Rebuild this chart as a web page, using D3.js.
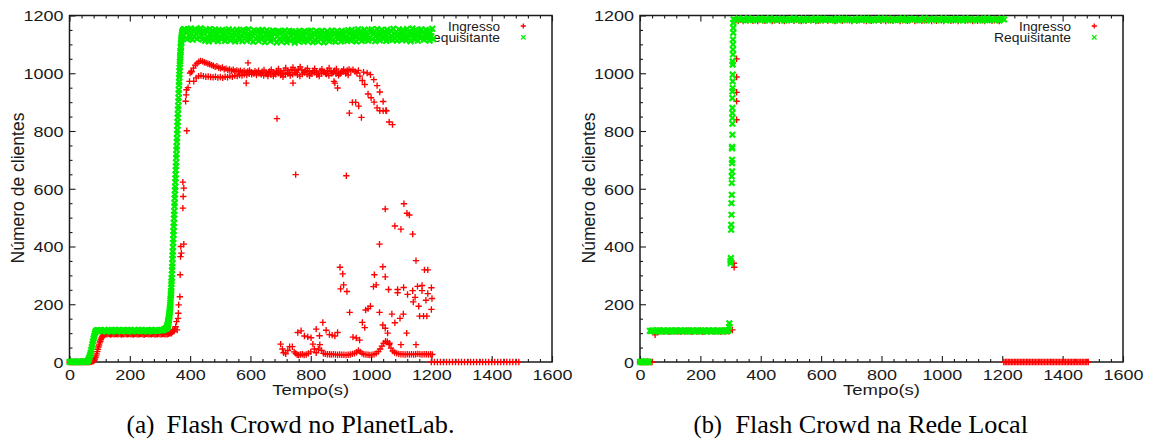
<!DOCTYPE html>
<html><head><meta charset="utf-8">
<script src="https://cdn.jsdelivr.net/npm/d3@7"></script>
<style>body{margin:0;background:#fff}svg{display:block}</style>
</head><body>
<svg id="c" width="1151" height="441"></svg>
<script>
// ---------------- DATA ----------------
const xTickValues = [0,200,400,600,800,1000,1200,1400,1600];
const yTickValues = [0,200,400,600,800,1000,1200];
const seriesNames = ["Ingresso","Requisitante"];
const captions = ["(a)","Flash Crowd no PlanetLab.","(b)","Flash Crowd na Rede Local"];

// (a) PlanetLab — Requisitante (regularly sampled segments: start, step, values)
const reqA_low = {start:0, step:4, values:[0,1,0,2,0,1,0,0,2,1,0,1,0,2,1]};
const reqA_ramp1 = {start:58, step:2, values:[1,3,6,10,16,24,32,42,52,62,72,82,90,98,104,107,109,108,110,109,108]};
const reqA_plateau = {start:100, step:4, values:[108,110,107,109,111,108,106,110,109,107,111,108,110,109,107,108,111,110,106,109,108,110,107,111,109,108,110,106,109,111,108,107,110,109,108,111,107,109,110,108,106,110,109,111,108,107,110,109,108,110,109,111,110,112,114,117]};
const reqA_surge = {start:322, step:0.5, values:[116,117,119,120,121,123,125,127,130,131,134,137,140,144,146,150,155,158,162,168,172,178,185,190,197,205,212,220,230,238,247,258,270,280,291,304,318,330,342,357,370,383,398,413,425,441,453,469,481,497,510,523,539,551,567,580,595,607,623,636,649,665,678,691,707,719,735,747,763,775,791,803,819,831,847,859,875,887,903,915,931,943,959,970,985,995,1009,1019,1032,1041,1053,1061,1072,1079,1089,1094,1103,1107,1115,1118,1125,1127,1133,1134,1139,1140,1143,1144,1147,1146,1149,1148,1150,1149,1151,1150,1152,1149,1150,1148,1151,1147,1150,1146,1149]};
const reqA_band = {start:387, step:3, values:[
1146,1118,1152,1131,1122,1155,1139,1116,1149,1127,1153,1135,1119,1150,1142,1124,1156,1130,1117,1147,
1138,1113,1151,1126,1144,1110,1153,1133,1120,1148,1115,1140,1152,1123,1136,1111,1149,1129,1145,1118,
1150,1125,1137,1112,1147,1132,1119,1152,1141,1114,1128,1149,1121,1143,1110,1135,1151,1124,1139,1116,
1146,1130,1111,1150,1137,1122,1148,1113,1134,1152,1126,1117,1143,1131,1109,1149,1138,1120,1145,1127,
1112,1147,1133,1118,1150,1124,1141,1108,1136,1149,1121,1130,1144,1111,1139,1126,1148,1115,1135,1145,
1107,1129,1146,1119,1138,1110,1144,1127,1116,1148,1133,1108,1140,1122,1147,1113,1131,1145,1118,1136,
1106,1143,1125,1139,1111,1147,1128,1115,1142,1134,1109,1146,1121,1137,1112,1145,1130,1117,1148,1124,
1108,1140,1132,1114,1146,1126,1110,1143,1135,1119,1147,1123,1107,1141,1129,1116,1145,1134,1111,1138,
1120,1148,1113,1136,1142,1109,1127,1146,1118,1139,1131,1110,1147,1124,1135,1115,1144,1128,1112,1149,
1122,1137,1114,1150,1130,1117,1145,1126,1110,1141,1152,1119,1133,1147,1112,1138,1125,1151,1116,1143,
1131,1113,1149,1123,1140,1152,1118,1135,1146,1111,1128,1153,1121,1142,1114,1137,1150,1126,1119,1145,
1133,1112,1151,1124,1139,1117,1148,1130,1115,1154,1136,1121,1143,1113,1129,1152,1119,1146,1134,1116,
1149,1127,1140,1114,1153,1132,1120,1145,1111,1138,1155,1123,1141,1117,1150,1129,1113,1147,1135,1121,
1152,1126,1143,1116,1138,1150,1120,1133,1147,1113,1141,1128,1154,1118]};

// (a) PlanetLab — Ingresso
const ingA_low = {start:0, step:4, values:[0,0,0,0,0,0,0,0,0,0,0,0,0,0,0,0,0,0,1,2]};
const ingA_ramp = {start:80, step:2, values:[3,6,10,15,21,28,36,44,52,59,66,72,78,83,87,90,93,95,96,97]};
const ingA_plateau = {start:120, step:4, values:[97,96,98,97,95,97,98,96,97,97,96,98,97,95,97,96,98,97,96,97,98,96,97,95,97,98,96,97,96,98,97,96,95,97,98,97,96,97,96,98,97,95,97,96,98,97,96,97,98,96,97,96,98,99]};
const ingA_upper = {start:405, step:6, values:[1005,1018,1028,1034,1040,1043,1041,1038,1036,1033,1031,1028,1026,1022,1024,1019,1017,1020,1014,1016,1011,1013,1009,1012,1007,1010,1006,1009,1004,1008,1003,1006,1010,1004,1001,1007,1003,1009,1000,1005,1011,1003,998,1006,1012,1004,999,1008,1015,1005,1000,1010,1018,1008,1002,1012,1020,1009,1003,1014,1022,1011,1004,1010,1017,1006,1000,1009,1016,1005,998,1008,1014,1004,999,1010,1018,1007,1001,1009,1015,1004,998,1007,1013,1005,1010,1013]};
const ingA_lower = {start:412, step:8, values:[972,984,990,992,990,988,989,987,986,988,985,987,984,988,986,990,988,992,990,994,992,996,994,998,996,999,994,1000,996,992,997,1001,995,990,996,1000,994,988,995,999,992,996,1001,995,990,997,1002,996,991,998,1003,995,990,999,1004,997,992,1000,1005,998,993,1001,1006,999,994]};
const ingA_high = {start:1200, step:10, values:[0,0,0,0,0,0,0,0,0,0,0,0,0,0,0,0,0,0,0,0,0,0,0,0,0,0,0,0,0,0]};
const ingA_rise = [[334,100],[338,99],[341,104],[343,111],[346,106],[349,114],[352,122],[355,140],[357,111],[360,151],[361,169],[362,198],[366,226],[367,302],[368,365],[371,377],[369,400],[379,408],[376,533],[377,573],[379,602],[376,623],[389,801],[385,903],[387,925],[388,943],[393,950],[398,972],[400,1001],[404,1007]];
const ingA_fall = [[933,1008],[940,1012],[947,1006],[953,1001],[958,1010],[975,1004],
  [963,990],[971,975],[979,961],[990,928],[1000,915],[1010,900],[1020,880],[1029,870],[1040,870],[1051,870],
  [987,1001],[998,995],[1009,978],[1020,957],[1029,935],[1040,902],[1049,871],[1060,831],[1071,822],
  [968,847],[959,886],[949,899],[938,899],[928,862],[889,949],[877,972],
  [688,843],[741,966],[750,649],[918,645],[592,1036],[658,990],[586,966],[880,966]];
const ingA_scatter = [[700,62],[706,45],[710,32],[717,28],[724,40],[730,53],[739,53],[745,35],[750,30],[755,25],[760,24],[766,26],[772,27],[778,24],[785,26],[792,30],[800,35],[807,62],[812,45],[818,32],[825,45],[830,60],[836,40],[842,30],[848,28],[855,27],[862,27],[868,26],[875,27],[882,26],[889,25],[896,26],[903,25],[910,25],[917,24],[924,25],[931,26],[938,28],[945,30],[952,34],[958,40],[964,35],[970,30],[976,27],[983,26],[990,25],[996,24],[1003,25],[1010,27],[1017,30],[1024,36],[1030,45],[1036,55],[1042,65],[1048,72],[1054,70],[1060,60],[1066,48],[1072,38],[1078,33],[1085,30],[1092,28],[1099,27],[1106,27],[1113,26],[1120,27],[1127,26],[1134,27],[1141,26],[1148,27],[1155,28],[1162,27],[1169,26],[1176,27],[1183,27],[1190,26],[1197,27],[1203,26],
  [757,102],[768,108],[779,90],[790,87],[801,84],[818,114],[829,91],[840,137],[851,110],[862,95],[871,93],[880,90],[889,102],[940,86],[951,83],[962,76],[971,137],[979,119],[1039,128],[1047,117],[1055,100],[1061,65],[1069,166],[1079,136],[1096,151],[1107,166],[1118,100],[1161,159],[1174,159],[1185,159],[1149,60],[1099,60],
  [897,328],[906,305],[909,267],[899,253],[920,244],[929,172],[982,180],[990,185],[998,193],[1008,261],[1011,302],[1017,267],[1028,408],[1039,330],[1047,295],[1047,530],[1058,251],[1028,172],[1079,471],[1088,251],[1088,240],[1099,460],[1109,548],[1119,515],[1127,509],[1138,443],[1108,258],[1121,234],[1138,247],[1146,224],[1140,208],[1149,351],[1154,262],[1158,193],[1169,265],[1177,319],[1188,319],[1169,247],[1182,214],[1188,237],[1200,257],[1202,220],[1200,182]];

// (b) Rede Local — Requisitante
const reqB_low = {start:0, step:3, values:[0,1,0,0,1,0,2,0,1,0,0]};
const reqB_plateau = {start:33, step:4, values:[108,107,109,108,106,109,108,107,109,108,107,109,108,106,108,109,107,108,109,107,108,106,109,108,107,109,108,107,108,109,106,108,109,107,108,108,109,107,106,109,108,107,109,108,107,108,109,106,108,109,107,108,109,107,108,106,109,108,107,109,108,107,108,109,107,110]};
const reqB_jump = [[296,122],[296,134],[300,342],[300,350],[301,360],[302,458],[302,475],[303,510],[303,550],[304,579],[304,620],[304,643],[305,660],[305,689],[305,700],[305,740],[305,745],[306,787],[306,825],[306,845],[306,862],[306,880],[306,914],[306,937],[307,949],[307,972],[307,995],[307,1030],[307,1041],[308,1065],[308,1082],[308,1100],[308,1117],[309,1140],[309,1157],[309,1175]];
const reqB_top = {start:310, step:8, values:[
1187,1184,1189,1185,1188,1183,1190,1186,1184,1188,1185,1189,1187,1183,1186,1190,1184,1188,1185,1187,
1189,1183,1186,1188,1184,1190,1185,1187,1183,1189,1186,1184,1188,1185,1190,1183,1187,1189,1184,1186,
1188,1185,1183,1190,1186,1184,1189,1187,1185,1188,1183,1186,1190,1184,1187,1189,1185,1183,1188,1186,
1184,1190,1187,1185,1189,1183,1186,1188,1184,1187,1190,1185,1183,1189,1186,1188,1184,1187,1185,1190,
1183,1188,1186,1189,1184,1187,1185,1190,1183,1186,1188,1184,1189,1187,1185,1183,1190,1186,1188,1184,
1187,1185,1189,1183,1186,1190,1184,1188,1185,1187,1183,1189,1186]};

// (b) Rede Local — Ingresso
const ingB_low = {start:0, step:4, values:[0,0,0,0,0,0,0,0,0,0,0]};
const ingB_plateau = {start:44, step:4, values:[107,106,108,107,105,107,108,106,107,107,106,108,107,105,107,106,108,107,106,107,108,106,107,105,107,108,106,107,106,108,107,106,105,107,108,107,106,107,106,108,107,105,107,106,108,107,106,107,108,106,107,106,108,107,106,107,105,108,107,106,107,108,106,107]};
const ingB_top = {start:318, step:8, values:[
1183,1182,1185,1181,1184,1183,1186,1182,1184,1181,1185,1183,1182,1184,1186,1181,1183,1185,1182,1184,
1181,1184,1183,1186,1182,1185,1183,1181,1184,1182,1186,1183,1185,1181,1182,1184,1183,1186,1182,1185,
1184,1181,1183,1185,1182,1186,1184,1183,1181,1185,1182,1184,1186,1183,1181,1184,1182,1185,1183,1186,
1182,1184,1181,1185,1183,1182,1186,1184,1181,1183,1185,1182,1184,1186,1181,1183,1185,1182,1184,1183,
1186,1181,1184,1182,1185,1183,1181,1186,1184,1182,1183,1185,1181,1184,1186,1182,1183,1185,1181,1184,
1182,1186,1183,1181,1185,1184,1182,1183,1186,1181,1184]};
const ingB_high = {start:1205, step:5, values:[0,0,0,0,0,0,0,0,0,0,0,0,0,0,0,0,0,0,0,0,0,0,0,0,0,0,0,0,0,0,0,0,0,0,0,0,0,0,0,0,0,0,0,0,0,0,0,0,0,0,0,0,0,0,0,0,0]};
const ingB_extra = [[50,94],[306,111],[311,342],[312,328],[320,839],[320,903],[320,934],[320,987],[320,1050]];

// ---------------- DRAWING ----------------
const SANS = "'Liberation Sans', Arial, Helvetica, sans-serif";
const SERIF = "'Liberation Serif', 'Times New Roman', serif";
const RED = "#ff0000", GREEN = "#00f000", INK = "#1a1a1a";
const svg = d3.select("#c");

const seg = s => s.values.map((v,i) => [s.start + i*s.step, v]);

const panels = [
  {left:69.5, right:552, top:15.5, bottom:362,
   ing:[...seg(ingA_low),...seg(ingA_ramp),...seg(ingA_plateau),...ingA_rise,...seg(ingA_upper),...seg(ingA_lower),...ingA_fall,...ingA_scatter,...seg(ingA_high)],
   req:[...seg(reqA_low),...seg(reqA_ramp1),...seg(reqA_plateau),...seg(reqA_surge),...seg(reqA_band)],
   cap:[captions[0],captions[1]], capX:[126.5,166.5], capLen:[28,288]},
  {left:640, right:1123, top:15.5, bottom:362,
   ing:[...seg(ingB_low),...seg(ingB_plateau),...ingB_extra,...seg(ingB_top),...seg(ingB_high)],
   req:[...seg(reqB_low),...seg(reqB_plateau),...reqB_jump,...seg(reqB_top)],
   cap:[captions[2],captions[3]], capX:[693.5,735.5], capLen:[28.5,292.5]}
];

const minorX = d3.range(0,1601,40).filter(v => v % 200 !== 0);
const minorY = d3.range(0,1201,50).filter(v => v % 200 !== 0);
const digitW = 10; // advance per digit in the original tick labels

panels.forEach(p => {
  const x = d3.scaleLinear().domain([0,1600]).range([p.left,p.right]);
  const y = d3.scaleLinear().domain([0,1200]).range([p.bottom,p.top]);
  const g = svg.append("g").attr("color",INK);

  // frame
  g.append("rect").attr("x",p.left).attr("y",p.top)
    .attr("width",p.right-p.left).attr("height",p.bottom-p.top)
    .attr("fill","none").attr("stroke",INK).attr("stroke-width",1.5);

  const styleAxis = sel => { sel.select(".domain").remove(); sel.selectAll("line").attr("stroke-width",1.1);
    sel.attr("font-family",SANS).attr("font-size",15); sel.selectAll("text").attr("fill",INK)
      .attr("textLength", function(){ return this.textContent.length*digitW; }).attr("lengthAdjust","spacingAndGlyphs"); };

  // bottom
  const bx = g.append("g").attr("transform",`translate(0,${p.bottom})`)
    .call(d3.axisBottom(x).tickValues(xTickValues).tickSize(-6).tickFormat(d3.format("d")));
  styleAxis(bx); bx.selectAll("text").attr("y",17.5).attr("dy",null);
  const bxm = g.append("g").attr("transform",`translate(0,${p.bottom})`)
    .call(d3.axisBottom(x).tickValues(minorX).tickSize(-3).tickFormat(""));
  styleAxis(bxm);
  // top
  const tx = g.append("g").attr("transform",`translate(0,${p.top})`)
    .call(d3.axisTop(x).tickValues(xTickValues).tickSize(-6).tickFormat(""));
  styleAxis(tx);
  const txm = g.append("g").attr("transform",`translate(0,${p.top})`)
    .call(d3.axisTop(x).tickValues(minorX).tickSize(-3).tickFormat(""));
  styleAxis(txm);
  // left
  const ly = g.append("g").attr("transform",`translate(${p.left},0)`)
    .call(d3.axisLeft(y).tickValues(yTickValues).tickSize(-6).tickFormat(d3.format("d")));
  styleAxis(ly); ly.selectAll("text").attr("x",-6).attr("dy","0.36em");
  const lym = g.append("g").attr("transform",`translate(${p.left},0)`)
    .call(d3.axisLeft(y).tickValues(minorY).tickSize(-3).tickFormat(""));
  styleAxis(lym);

  // axis titles
  g.append("text").attr("x",(p.left+p.right)/2 - 38.5).attr("y",394.5)
    .attr("font-family",SANS).attr("font-size",15).attr("fill",INK)
    .attr("textLength",77).attr("lengthAdjust","spacingAndGlyphs")
    .text("Tempo(s)");
  g.append("text").attr("transform",`translate(${p.left-45.5},188) rotate(-90)`)
    .attr("text-anchor","middle").attr("font-family",SANS).attr("font-size",17.5).attr("fill",INK)
    .text("Número de clientes");

  // legend text (drawn beneath the data, as in the original)
  const lg = g.append("g").attr("font-family",SANS).attr("font-size",13.5).attr("fill",INK).attr("text-anchor","end");
  lg.append("text").attr("x",p.right-52).attr("y",30.5).attr("textLength",52).attr("lengthAdjust","spacingAndGlyphs").text(seriesNames[0]);
  lg.append("text").attr("x",p.right-52).attr("y",41.5).attr("textLength",77).attr("lengthAdjust","spacingAndGlyphs").text(seriesNames[1]);

  // Ingresso (+)
  g.append("g").selectAll("path").data(p.ing).join("path")
    .attr("d", d => { const cx = x(d[0]), cy = y(d[1]); return `M${cx-3.2},${cy}h6.4M${cx},${cy-3.2}v6.4`; })
    .attr("stroke",RED).attr("stroke-width",1.35).attr("fill","none");
  // Requisitante (x)
  g.append("g").selectAll("path").data(p.req).join("path")
    .attr("d", d => { const cx = x(d[0]), cy = y(d[1]); return `M${cx-2.8},${cy-2.8}l5.6,5.6M${cx-2.8},${cy+2.8}l5.6,-5.6`; })
    .attr("stroke",GREEN).attr("stroke-width",2.2).attr("fill","none");

  // legend markers
  const mx = p.right-28.7;
  g.append("path").attr("d",`M${mx-2.6},26h5.2M${mx},23.4v5.2`).attr("stroke",RED).attr("stroke-width",1.3);
  g.append("path").attr("d",`M${mx-2.2},35.1l4.4,4.4M${mx-2.2},39.5l4.4,-4.4`).attr("stroke",GREEN).attr("stroke-width",1.3);

  // caption
  const cg = svg.append("g").attr("font-family",SERIF).attr("font-size",25).attr("fill","#000");
  cg.append("text").attr("x",p.capX[0]).attr("y",433).attr("textLength",p.capLen[0]).attr("lengthAdjust","spacingAndGlyphs").text(p.cap[0]);
  cg.append("text").attr("x",p.capX[1]).attr("y",433).attr("textLength",p.capLen[1]).attr("lengthAdjust","spacingAndGlyphs").text(p.cap[1]);
});
</script>
</body></html>
